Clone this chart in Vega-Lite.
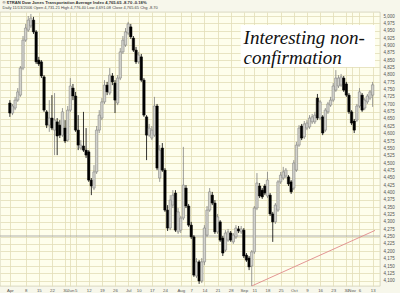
{
  "$schema": "https://vega.github.io/schema/vega-lite/v6.json",
  "width": 380,
  "height": 274,
  "autosize": {"type": "none"},
  "padding": {"left": 0, "top": 12, "right": 20, "bottom": 7},
  "background": "#F7F7EB",
  "title": {
    "text": "© $TRAN Dow Jones Transportation Average Index  4,765.65  -8.70  -0.18%",
    "subtitle": "Daily 11/13/2006  Open 4,731.21  High 4,776.40  Low 4,691.08  Close 4,765.65  Chg -8.70",
    "anchor": "start",
    "font": "Liberation Sans",
    "fontSize": 4.2,
    "fontWeight": "bold",
    "color": "#333333",
    "subtitleFont": "Liberation Sans",
    "subtitleFontSize": 4,
    "subtitleColor": "#444444",
    "subtitlePadding": 1,
    "offset": 2,
    "dx": 3
  },
  "config": {
    "view": {"fill": "#FEFEEC", "stroke": "#C4C0A4", "strokeWidth": 0.6},
    "axis": {
      "labelFont": "Liberation Sans",
      "labelFontSize": 4.5,
      "labelColor": "#555555",
      "gridColor": "#E2DDB8",
      "gridWidth": 0.8,
      "ticks": false,
      "domain": false
    },
    "axisX": {
      "labelFont": "Liberation Sans Narrow, Liberation Sans",
      "labelFontSize": 4.3
    }
  },
  "datasets": {
    "candles": [
      {"i":0,"o":4704,"h":4714,"l":4657,"c":4670},
      {"i":1,"o":4670,"h":4701,"l":4663,"c":4694},
      {"i":2,"o":4687,"h":4725,"l":4680,"c":4714},
      {"i":3,"o":4714,"h":4755,"l":4708,"c":4742},
      {"i":4,"o":4731,"h":4830,"l":4725,"c":4823},
      {"i":5,"o":4823,"h":4932,"l":4816,"c":4918},
      {"i":6,"o":4918,"h":4973,"l":4912,"c":4959},
      {"i":7,"o":4952,"h":5000,"l":4946,"c":4986},
      {"i":8,"o":4966,"h":5007,"l":4959,"c":4993},
      {"i":9,"o":4986,"h":4997,"l":4939,"c":4946},
      {"i":10,"o":4946,"h":4952,"l":4837,"c":4844},
      {"i":11,"o":4850,"h":4861,"l":4830,"c":4837},
      {"i":12,"o":4844,"h":4850,"l":4789,"c":4796},
      {"i":13,"o":4793,"h":4799,"l":4674,"c":4680},
      {"i":14,"o":4674,"h":4680,"l":4619,"c":4629},
      {"i":15,"o":4629,"h":4714,"l":4606,"c":4653},
      {"i":16,"o":4653,"h":4731,"l":4612,"c":4619},
      {"i":17,"o":4612,"h":4738,"l":4527,"c":4646},
      {"i":18,"o":4640,"h":4653,"l":4527,"c":4592},
      {"i":19,"o":4629,"h":4646,"l":4585,"c":4595},
      {"i":20,"o":4595,"h":4687,"l":4589,"c":4674},
      {"i":21,"o":4619,"h":4646,"l":4568,"c":4575},
      {"i":22,"o":4578,"h":4694,"l":4572,"c":4680},
      {"i":23,"o":4680,"h":4789,"l":4674,"c":4762},
      {"i":24,"o":4755,"h":4769,"l":4714,"c":4728},
      {"i":25,"o":4728,"h":4742,"l":4606,"c":4612},
      {"i":26,"o":4612,"h":4663,"l":4544,"c":4561},
      {"i":27,"o":4551,"h":4578,"l":4544,"c":4561},
      {"i":28,"o":4558,"h":4674,"l":4538,"c":4544},
      {"i":29,"o":4544,"h":4619,"l":4517,"c":4527},
      {"i":30,"o":4538,"h":4544,"l":4436,"c":4442},
      {"i":31,"o":4442,"h":4449,"l":4391,"c":4422},
      {"i":32,"o":4415,"h":4493,"l":4408,"c":4470},
      {"i":33,"o":4470,"h":4626,"l":4463,"c":4612},
      {"i":34,"o":4612,"h":4680,"l":4602,"c":4663},
      {"i":35,"o":4653,"h":4721,"l":4646,"c":4708},
      {"i":36,"o":4708,"h":4782,"l":4701,"c":4765},
      {"i":37,"o":4765,"h":4776,"l":4731,"c":4742},
      {"i":38,"o":4738,"h":4823,"l":4731,"c":4799},
      {"i":39,"o":4796,"h":4806,"l":4765,"c":4776},
      {"i":40,"o":4772,"h":4782,"l":4670,"c":4714},
      {"i":41,"o":4704,"h":4799,"l":4697,"c":4789},
      {"i":42,"o":4789,"h":4891,"l":4782,"c":4878},
      {"i":43,"o":4878,"h":4932,"l":4871,"c":4918},
      {"i":44,"o":4901,"h":4959,"l":4895,"c":4946},
      {"i":45,"o":4942,"h":4980,"l":4935,"c":4973},
      {"i":46,"o":4963,"h":4973,"l":4922,"c":4929},
      {"i":47,"o":4925,"h":4932,"l":4878,"c":4884},
      {"i":48,"o":4884,"h":4895,"l":4837,"c":4844},
      {"i":49,"o":4844,"h":4878,"l":4837,"c":4867},
      {"i":50,"o":4861,"h":4871,"l":4776,"c":4782},
      {"i":51,"o":4782,"h":4789,"l":4657,"c":4663},
      {"i":52,"o":4657,"h":4663,"l":4510,"c":4595},
      {"i":53,"o":4595,"h":4633,"l":4589,"c":4619},
      {"i":54,"o":4585,"h":4626,"l":4578,"c":4612},
      {"i":55,"o":4595,"h":4725,"l":4589,"c":4694},
      {"i":56,"o":4694,"h":4701,"l":4476,"c":4483},
      {"i":57,"o":4449,"h":4561,"l":4436,"c":4544},
      {"i":58,"o":4551,"h":4568,"l":4470,"c":4476},
      {"i":59,"o":4476,"h":4483,"l":4334,"c":4340},
      {"i":60,"o":4340,"h":4357,"l":4269,"c":4279},
      {"i":61,"o":4279,"h":4391,"l":4272,"c":4374},
      {"i":62,"o":4357,"h":4408,"l":4347,"c":4391},
      {"i":63,"o":4398,"h":4408,"l":4266,"c":4272},
      {"i":64,"o":4266,"h":4347,"l":4259,"c":4334},
      {"i":65,"o":4272,"h":4320,"l":4262,"c":4313},
      {"i":66,"o":4313,"h":4555,"l":4306,"c":4425},
      {"i":67,"o":4415,"h":4425,"l":4347,"c":4354},
      {"i":68,"o":4354,"h":4361,"l":4283,"c":4289},
      {"i":69,"o":4289,"h":4300,"l":4242,"c":4249},
      {"i":70,"o":4249,"h":4255,"l":4113,"c":4119},
      {"i":71,"o":4116,"h":4177,"l":4109,"c":4164},
      {"i":72,"o":4164,"h":4170,"l":4089,"c":4099},
      {"i":73,"o":4099,"h":4177,"l":4092,"c":4164},
      {"i":74,"o":4164,"h":4289,"l":4153,"c":4279},
      {"i":75,"o":4255,"h":4354,"l":4249,"c":4340},
      {"i":76,"o":4340,"h":4415,"l":4334,"c":4402},
      {"i":77,"o":4391,"h":4402,"l":4357,"c":4364},
      {"i":78,"o":4364,"h":4374,"l":4259,"c":4266},
      {"i":79,"o":4266,"h":4327,"l":4259,"c":4317},
      {"i":80,"o":4300,"h":4306,"l":4232,"c":4238},
      {"i":81,"o":4245,"h":4252,"l":4184,"c":4194},
      {"i":82,"o":4204,"h":4272,"l":4198,"c":4262},
      {"i":83,"o":4238,"h":4276,"l":4232,"c":4266},
      {"i":84,"o":4262,"h":4269,"l":4232,"c":4238},
      {"i":85,"o":4232,"h":4262,"l":4225,"c":4255},
      {"i":86,"o":4249,"h":4289,"l":4242,"c":4279},
      {"i":87,"o":4276,"h":4286,"l":4262,"c":4269},
      {"i":88,"o":4266,"h":4286,"l":4259,"c":4276},
      {"i":89,"o":4272,"h":4279,"l":4177,"c":4184},
      {"i":90,"o":4187,"h":4194,"l":4164,"c":4170},
      {"i":91,"o":4177,"h":4184,"l":4136,"c":4147},
      {"i":92,"o":4150,"h":4204,"l":4082,"c":4198},
      {"i":93,"o":4198,"h":4354,"l":4191,"c":4347},
      {"i":94,"o":4347,"h":4466,"l":4340,"c":4432},
      {"i":95,"o":4422,"h":4432,"l":4381,"c":4388},
      {"i":96,"o":4408,"h":4415,"l":4378,"c":4385},
      {"i":97,"o":4422,"h":4429,"l":4391,"c":4398},
      {"i":98,"o":4388,"h":4470,"l":4381,"c":4442},
      {"i":99,"o":4391,"h":4398,"l":4320,"c":4327},
      {"i":100,"o":4327,"h":4334,"l":4232,"c":4300},
      {"i":101,"o":4300,"h":4364,"l":4293,"c":4357},
      {"i":102,"o":4340,"h":4442,"l":4334,"c":4436},
      {"i":103,"o":4436,"h":4470,"l":4429,"c":4459},
      {"i":104,"o":4449,"h":4487,"l":4442,"c":4470},
      {"i":105,"o":4456,"h":4483,"l":4449,"c":4476},
      {"i":106,"o":4453,"h":4459,"l":4422,"c":4429},
      {"i":107,"o":4436,"h":4442,"l":4395,"c":4402},
      {"i":108,"o":4415,"h":4510,"l":4408,"c":4500},
      {"i":109,"o":4476,"h":4572,"l":4470,"c":4561},
      {"i":110,"o":4561,"h":4629,"l":4555,"c":4619},
      {"i":111,"o":4626,"h":4633,"l":4578,"c":4585},
      {"i":112,"o":4589,"h":4643,"l":4582,"c":4633},
      {"i":113,"o":4619,"h":4646,"l":4612,"c":4636},
      {"i":114,"o":4623,"h":4663,"l":4616,"c":4653},
      {"i":115,"o":4640,"h":4667,"l":4633,"c":4657},
      {"i":116,"o":4640,"h":4674,"l":4633,"c":4663},
      {"i":117,"o":4721,"h":4735,"l":4646,"c":4653},
      {"i":118,"o":4653,"h":4714,"l":4646,"c":4708},
      {"i":119,"o":4657,"h":4663,"l":4595,"c":4602},
      {"i":120,"o":4612,"h":4687,"l":4606,"c":4680},
      {"i":121,"o":4674,"h":4708,"l":4667,"c":4701},
      {"i":122,"o":4697,"h":4725,"l":4691,"c":4714},
      {"i":123,"o":4714,"h":4772,"l":4708,"c":4762},
      {"i":124,"o":4748,"h":4816,"l":4742,"c":4789},
      {"i":125,"o":4762,"h":4799,"l":4755,"c":4789},
      {"i":126,"o":4765,"h":4803,"l":4759,"c":4793},
      {"i":127,"o":4789,"h":4796,"l":4742,"c":4748},
      {"i":128,"o":4769,"h":4776,"l":4725,"c":4731},
      {"i":129,"o":4731,"h":4738,"l":4667,"c":4674},
      {"i":130,"o":4674,"h":4680,"l":4629,"c":4636},
      {"i":131,"o":4643,"h":4650,"l":4602,"c":4612},
      {"i":132,"o":4646,"h":4701,"l":4640,"c":4694},
      {"i":133,"o":4694,"h":4755,"l":4687,"c":4742},
      {"i":134,"o":4731,"h":4738,"l":4674,"c":4680},
      {"i":135,"o":4687,"h":4721,"l":4680,"c":4714},
      {"i":136,"o":4708,"h":4735,"l":4701,"c":4728},
      {"i":137,"o":4721,"h":4748,"l":4714,"c":4742},
      {"i":138,"o":4731,"h":4776,"l":4691,"c":4766}
    ]
  },
  "layer": [
    {
      "data": {"values": [{"x0": 87.8, "x1": 138.9, "y0": 4827, "y1": 4969}]},
      "mark": {"type": "rect", "fill": "#FFFFFF", "stroke": null},
      "encoding": {
        "x": {
          "field": "x0", "type": "quantitative", "title": null,
          "scale": {"domain": [-1.85, 138.9], "nice": false, "zero": false},
          "axis": {
            "orient": "bottom",
            "values": [0,6,11,16,21,23,25,30,35,40,45,49,54,59,65,69,74,79,84,89,93,98,103,108,113,118,123,128,130,133,138],
            "labelExpr": "['Apr','8','15','22','30','Jun','5','12','19','26','Jul','10','17','24','Aug','7','14','21','28','Sep','11','18','25','Oct','9','16','23','30','Nov','6','13'][indexof([0,6,11,16,21,23,25,30,35,40,45,49,54,59,65,69,74,79,84,89,93,98,103,108,113,118,123,128,130,133,138], datum.value)]",
            "labelAlign": "center",
            "labelPadding": 2,
            "labelOverlap": false,
            "labelBound": false,
            "labelFlush": false,
            "grid": true
          }
        },
        "x2": {"field": "x1"},
        "y": {
          "field": "y0", "type": "quantitative", "title": null,
          "scale": {"domain": [4082, 5013.6], "nice": false, "zero": false},
          "axis": {
            "orient": "right",
            "values": [4100,4125,4150,4175,4200,4225,4250,4275,4300,4325,4350,4375,4400,4425,4450,4475,4500,4525,4550,4575,4600,4625,4650,4675,4700,4725,4750,4775,4800,4825,4850,4875,4900,4925,4950,4975,5000],
            "format": ",d",
            "labelPadding": 3,
            "labelOverlap": false,
            "labelBound": false,
            "labelFlush": false,
            "grid": true
          }
        },
        "y2": {"field": "y1"}
      }
    },
    {
      "data": {"values": [{"p": 4252}]},
      "mark": {"type": "rule", "color": "#9C9C9C", "strokeWidth": 0.8},
      "encoding": {
        "y": {
          "field": "p", "type": "quantitative", "title": null,
          "axis": {
            "orient": "right",
            "values": [4100,4125,4150,4175,4200,4225,4250,4275,4300,4325,4350,4375,4400,4425,4450,4475,4500,4525,4550,4575,4600,4625,4650,4675,4700,4725,4750,4775,4800,4825,4850,4875,4900,4925,4950,4975,5000],
            "format": ",d", "labelPadding": 3, "labelOverlap": false, "labelBound": false, "labelFlush": false, "grid": true
          }
        }
      }
    },
    {
      "data": {"name": "candles"},
      "mark": {"type": "rule", "strokeWidth": 0.8},
      "encoding": {
        "x": {
          "field": "i", "type": "quantitative", "title": null,
          "axis": {
            "orient": "bottom",
            "values": [0,6,11,16,21,23,25,30,35,40,45,49,54,59,65,69,74,79,84,89,93,98,103,108,113,118,123,128,130,133,138],
            "labelExpr": "['Apr','8','15','22','30','Jun','5','12','19','26','Jul','10','17','24','Aug','7','14','21','28','Sep','11','18','25','Oct','9','16','23','30','Nov','6','13'][indexof([0,6,11,16,21,23,25,30,35,40,45,49,54,59,65,69,74,79,84,89,93,98,103,108,113,118,123,128,130,133,138], datum.value)]",
            "labelAlign": "center", "labelPadding": 2, "labelOverlap": false, "labelBound": false, "labelFlush": false,
            "grid": true
          }
        },
        "y": {
          "field": "l", "type": "quantitative", "title": null,
          "axis": {
            "orient": "right",
            "values": [4100,4125,4150,4175,4200,4225,4250,4275,4300,4325,4350,4375,4400,4425,4450,4475,4500,4525,4550,4575,4600,4625,4650,4675,4700,4725,4750,4775,4800,4825,4850,4875,4900,4925,4950,4975,5000],
            "format": ",d", "labelPadding": 3, "labelOverlap": false, "labelBound": false, "labelFlush": false, "grid": true
          }
        },
        "y2": {"field": "h"},
        "color": {"condition": {"test": "datum.c >= datum.o", "value": "#808080"}, "value": "#000000"}
      }
    },
    {
      "data": {"name": "candles"},
      "mark": {"type": "bar", "size": 2.4, "strokeWidth": 0.5},
      "encoding": {
        "x": {
          "field": "i", "type": "quantitative", "title": null,
          "axis": {
            "orient": "bottom",
            "values": [0,6,11,16,21,23,25,30,35,40,45,49,54,59,65,69,74,79,84,89,93,98,103,108,113,118,123,128,130,133,138],
            "labelExpr": "['Apr','8','15','22','30','Jun','5','12','19','26','Jul','10','17','24','Aug','7','14','21','28','Sep','11','18','25','Oct','9','16','23','30','Nov','6','13'][indexof([0,6,11,16,21,23,25,30,35,40,45,49,54,59,65,69,74,79,84,89,93,98,103,108,113,118,123,128,130,133,138], datum.value)]",
            "labelAlign": "center", "labelPadding": 2, "labelOverlap": false, "labelBound": false, "labelFlush": false,
            "grid": true
          }
        },
        "y": {
          "field": "o", "type": "quantitative", "title": null,
          "axis": {
            "orient": "right",
            "values": [4100,4125,4150,4175,4200,4225,4250,4275,4300,4325,4350,4375,4400,4425,4450,4475,4500,4525,4550,4575,4600,4625,4650,4675,4700,4725,4750,4775,4800,4825,4850,4875,4900,4925,4950,4975,5000],
            "format": ",d", "labelPadding": 3, "labelOverlap": false, "labelBound": false, "labelFlush": false, "grid": true
          }
        },
        "y2": {"field": "c"},
        "fill": {"condition": {"test": "datum.c >= datum.o", "value": "#D2D2CC"}, "value": "#000000"},
        "stroke": {"condition": {"test": "datum.c >= datum.o", "value": "#777777"}, "value": "#000000"}
      }
    },
    {
      "data": {"values": [{"i": 92, "p": 4082}, {"i": 138.9, "p": 4271}]},
      "mark": {"type": "line", "color": "#E08A8A", "strokeWidth": 0.9},
      "encoding": {
        "x": {
          "field": "i", "type": "quantitative", "title": null,
          "axis": {
            "orient": "bottom",
            "values": [0,6,11,16,21,23,25,30,35,40,45,49,54,59,65,69,74,79,84,89,93,98,103,108,113,118,123,128,130,133,138],
            "labelExpr": "['Apr','8','15','22','30','Jun','5','12','19','26','Jul','10','17','24','Aug','7','14','21','28','Sep','11','18','25','Oct','9','16','23','30','Nov','6','13'][indexof([0,6,11,16,21,23,25,30,35,40,45,49,54,59,65,69,74,79,84,89,93,98,103,108,113,118,123,128,130,133,138], datum.value)]",
            "labelAlign": "center", "labelPadding": 2, "labelOverlap": false, "labelBound": false, "labelFlush": false,
            "grid": true
          }
        },
        "y": {
          "field": "p", "type": "quantitative", "title": null,
          "axis": {
            "orient": "right",
            "values": [4100,4125,4150,4175,4200,4225,4250,4275,4300,4325,4350,4375,4400,4425,4450,4475,4500,4525,4550,4575,4600,4625,4650,4675,4700,4725,4750,4775,4800,4825,4850,4875,4900,4925,4950,4975,5000],
            "format": ",d", "labelPadding": 3, "labelOverlap": false, "labelBound": false, "labelFlush": false, "grid": true
          }
        }
      }
    },
    {
      "data": {"values": [
        {"i": 88.9, "p": 4905, "t": "Interesting non-"},
        {"i": 88.9, "p": 4837, "t": "confirmation"}
      ]},
      "mark": {"type": "text", "align": "left", "baseline": "alphabetic", "font": "Liberation Serif", "fontStyle": "italic", "fontSize": 19, "color": "#111111"},
      "encoding": {
        "x": {
          "field": "i", "type": "quantitative", "title": null,
          "axis": {
            "orient": "bottom",
            "values": [0,6,11,16,21,23,25,30,35,40,45,49,54,59,65,69,74,79,84,89,93,98,103,108,113,118,123,128,130,133,138],
            "labelExpr": "['Apr','8','15','22','30','Jun','5','12','19','26','Jul','10','17','24','Aug','7','14','21','28','Sep','11','18','25','Oct','9','16','23','30','Nov','6','13'][indexof([0,6,11,16,21,23,25,30,35,40,45,49,54,59,65,69,74,79,84,89,93,98,103,108,113,118,123,128,130,133,138], datum.value)]",
            "labelAlign": "center", "labelPadding": 2, "labelOverlap": false, "labelBound": false, "labelFlush": false,
            "grid": true
          }
        },
        "y": {
          "field": "p", "type": "quantitative", "title": null,
          "axis": {
            "orient": "right",
            "values": [4100,4125,4150,4175,4200,4225,4250,4275,4300,4325,4350,4375,4400,4425,4450,4475,4500,4525,4550,4575,4600,4625,4650,4675,4700,4725,4750,4775,4800,4825,4850,4875,4900,4925,4950,4975,5000],
            "format": ",d", "labelPadding": 3, "labelOverlap": false, "labelBound": false, "labelFlush": false, "grid": true
          }
        },
        "text": {"field": "t"}
      }
    }
  ]
}
